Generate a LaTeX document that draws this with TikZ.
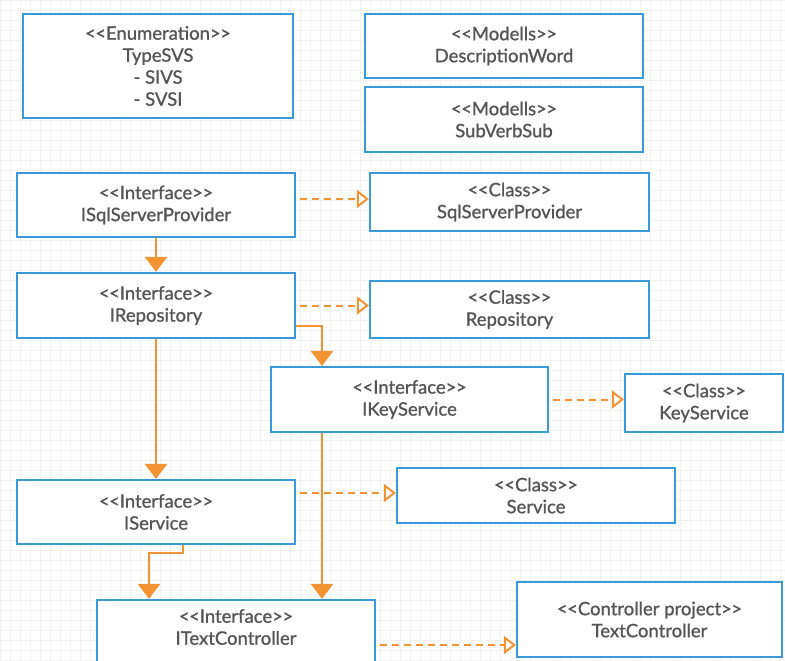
\documentclass[tikz,border=0pt]{standalone}
\usepackage{fontspec}
\setmainfont{Lato}[FakeBold=1]
\usetikzlibrary{arrows.meta}

\definecolor{boxblue}{RGB}{58,154,217}
\definecolor{linkorange}{RGB}{242,148,52}
\definecolor{labelgray}{RGB}{85,85,85}

\newcommand{\stype}[1]{<\kern-0.5pt<#1>\kern-0.5pt>}

\begin{document}
\begin{tikzpicture}[x=1pt,y=-1pt,
		umlbox/.style={draw=boxblue,line width=2.2pt,fill=white,text=labelgray,align=center,
			font=\fontsize{18.5}{22}\selectfont,inner sep=0pt},
		assoc/.style={draw=linkorange,line width=2.4pt,-{Triangle[width=22pt,length=15pt]}},
		realize/.style={draw=linkorange,line width=2pt,dash pattern=on 7pt off 5pt,shorten <=4pt,
			-{Triangle[open,width=18pt,length=12pt,line width=2pt]}}]
		
		\clip (0,0) rectangle (785,661);
		\draw[black!5,line width=0.5pt] (0,0) grid[step=10pt] (785,661);
		
		% models and enumeration
		\node[umlbox,minimum width=270pt,minimum height=104pt] (typesvs) at (158,66) {\stype{Enumeration}\\TypeSVS\\- SIVS\\- SVSI};
		\node[umlbox,minimum width=278pt,minimum height=64pt] (descword) at (504,46) {\stype{Modells}\\DescriptionWord};
		\node[umlbox,minimum width=278pt,minimum height=65pt] (subverb) at (504,119.5) {\stype{Modells}\\SubVerbSub};
		
		% interfaces and classes
		\node[umlbox,minimum width=278pt,minimum height=64pt] (isqlprov) at (156,205) {\stype{Interface}\\ISqlServerProvider};
		\node[umlbox,minimum width=279pt,minimum height=58pt] (sqlprov) at (509.5,202) {\stype{Class}\\SqlServerProvider};
		\node[umlbox,minimum width=278pt,minimum height=65pt] (irepo) at (156,305.5) {\stype{Interface}\\IRepository};
		\node[umlbox,minimum width=279pt,minimum height=57pt] (repo) at (509.5,309.5) {\stype{Class}\\Repository};
		\node[umlbox,minimum width=277pt,minimum height=65pt] (ikeysvc) at (409.5,399.5) {\stype{Interface}\\IKeyService};
		\node[umlbox,minimum width=158pt,minimum height=58pt] (keysvc) at (704,403) {\stype{Class}\\KeyService};
		\node[umlbox,minimum width=278pt,minimum height=64pt] (iservice) at (156,512) {\stype{Interface}\\IService};
		\node[umlbox,minimum width=278pt,minimum height=55pt] (service) at (536,495.5) {\stype{Class}\\Service};
		\node[umlbox,minimum width=278pt,minimum height=70pt,text depth=16pt] (itextctrl) at (236,635) {\stype{Interface}\\ITextController};
		\node[umlbox,minimum width=265pt,minimum height=75pt] (textctrl) at (649.5,619.5) {\stype{Controller project}\\TextController};
		
		% helper points
		\coordinate (sqlgo) at ([yshift=6pt]isqlprov.east);
		\coordinate (svcgo) at ([yshift=19pt]iservice.east);
		\coordinate (ctrlgo) at ([yshift=-10pt]itextctrl.east);
		\coordinate (repout) at ([yshift=-20.5pt]irepo.east);
		\coordinate (keyin) at ([xshift=-87.5pt]ikeysvc.north);
		\coordinate (keyout) at ([xshift=-87.5pt]ikeysvc.south);
		\coordinate (svcout) at ([xshift=27pt]iservice.south);
		\coordinate (ctrlin) at ([xshift=-87pt]itextctrl.north);
		
		\draw[assoc] (isqlprov.south) -- (irepo.north);
		\draw[assoc] (irepo.south) -- (iservice.north);
		\draw[assoc] (repout) -| (keyin);
		\draw[assoc] (keyout) -- (keyout |- itextctrl.north);
		\draw[assoc] (svcout) -- ++(0,8) -| (ctrlin);
		
		\draw[realize] (sqlgo) -- (sqlgo -| sqlprov.west);
		\draw[realize] (irepo.east) -- (irepo.east -| repo.west);
		\draw[realize] (ikeysvc.east) -- (ikeysvc.east -| keysvc.west);
		\draw[realize] (svcgo) -- (svcgo -| service.west);
		\draw[realize] (ctrlgo) -- (ctrlgo -| textctrl.west);
		
	\end{tikzpicture}
\end{document}
